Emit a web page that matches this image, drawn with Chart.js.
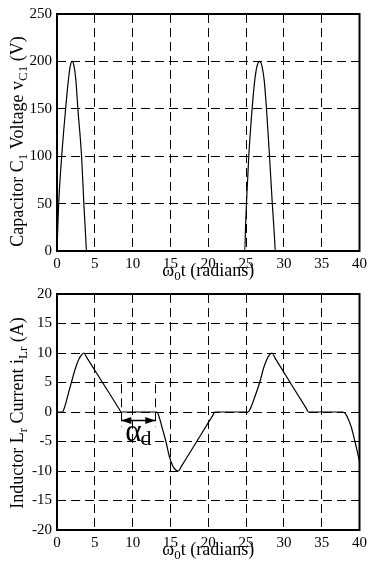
<!DOCTYPE html>
<html>
<head>
<meta charset="utf-8">
<script src="https://cdn.jsdelivr.net/npm/chart.js@4/dist/chart.umd.min.js"></script>
<style>
  html, body { margin: 0; padding: 0; background: #fff; }
  body { width: 371px; height: 568px; position: relative; overflow: hidden; }
  canvas { position: absolute; left: 0; }
  #vc { top: 0; }
  #il { top: 280px; }
</style>
</head>
<body>
<canvas id="vc" width="371" height="283"></canvas>
<canvas id="il" width="371" height="288"></canvas>
<script>
// Angle axis, ω0t in radians
const timeTicks = [0, 5, 10, 15, 20, 25, 30, 35, 40];

// Capacitor C1 voltage (V)
const vcTicks = [0, 50, 100, 150, 200, 250];
const vcTime  = [0, 0.1, 0.22, 0.62, 1.14, 1.5, 1.75, 2.0, 2.25, 2.5, 2.76, 3.25, 3.55, 3.8, 3.9,
                 24.83, 24.93, 25.05, 25.36, 25.8, 26.15, 26.45, 26.8, 27.1, 27.4, 27.7, 28.1, 28.47, 28.77, 28.87,
                 40];
const vcVolts = [0, 25, 50, 100, 150, 180, 195, 200, 195, 180, 150, 100, 50, 14, 0,
                 0, 25, 50, 100, 150, 180, 195, 200, 195, 180, 150, 100, 50, 13, 0,
                 0];

// Resonant inductor Lr current (A)
const ilTicks = [-20, -15, -10, -5, 0, 5, 10, 15, 20];
const ilTime = [0, 0.7, 1.0, 1.37, 1.9, 2.46, 2.9, 3.25, 3.55, 4.0, 8.2, 8.47,
                13.2, 13.5, 13.87, 14.4, 14.85, 15.25, 15.6, 16.05, 16.5, 20.6, 20.88,
                25.26, 25.6, 26.14, 26.8, 27.33, 27.77, 28.1, 28.42, 28.9, 33.0, 33.25,
                37.8, 38.2, 38.55, 38.9, 39.4, 39.85, 40];
const ilAmps = [0, 0, 0.8, 2.5, 5, 7.5, 9, 9.7, 10, 9.1, 0.55, 0,
                0, -0.8, -2.5, -5, -7.5, -9, -9.7, -10, -9.1, -0.58, 0,
                0, 0.7, 2.5, 5, 7.5, 9, 9.7, 10, 9.0, 0.52, 0,
                0, -0.4, -1.3, -2.5, -5, -7.5, -8.3];

// Dead angle alpha_d: start/end angle, arrow level and extent of its marker lines (A)
const alphaSpan = [8.5, 13.0];
const alphaArrowLevel = -1.4;
const alphaMarkRange = [4.7, -2.5];

// Axis titles as [text, isSubscript] runs
const timeTitle = [['ω', 0], ['0', 1], ['t (radians)', 0]];
const vcTitle = [['Capacitor C', 0], ['1', 1], [' Voltage v', 0], ['C1', 1], [' (V)', 0]];
const ilTitle = [['Inductor L', 0], ['r', 1], [' Current i', 0], ['Lr', 1], [' (A)', 0]];

const SERIF = '"Liberation Serif", "Times New Roman", serif';
const TITLE_PX = 18, SUB_PX = 13, SUB_DROP = 4;
const DASH = [9, 5];

function runsWidth(ctx, runs) {
  let w = 0;
  for (const [t, sub] of runs) {
    ctx.font = (sub ? SUB_PX : TITLE_PX) + 'px ' + SERIF;
    w += ctx.measureText(t).width;
  }
  return w;
}

// Draws runs centred on (0,0) of the current transform, baseline at y=0
function drawRuns(ctx, runs) {
  let x = -runsWidth(ctx, runs) / 2;
  ctx.textAlign = 'left';
  ctx.textBaseline = 'alphabetic';
  for (const [t, sub] of runs) {
    ctx.font = (sub ? SUB_PX : TITLE_PX) + 'px ' + SERIF;
    ctx.fillText(t, x, sub ? SUB_DROP : 0);
    x += ctx.measureText(t).width;
  }
}

const framePlugin = {
  id: 'frame',
  afterDraw(chart, args, opts) {
    const { ctx, chartArea: a } = chart;
    ctx.save();
    ctx.strokeStyle = '#000';
    ctx.lineWidth = 2;
    ctx.setLineDash([]);
    ctx.strokeRect(a.left, a.top, a.right - a.left, a.bottom - a.top);

    ctx.fillStyle = '#000';
    // x title
    ctx.save();
    ctx.translate((a.left + a.right) / 2, a.bottom + opts.xTitleGap);
    drawRuns(ctx, timeTitle);
    ctx.restore();
    // y title
    ctx.save();
    ctx.translate(23, (a.top + a.bottom) / 2 + opts.yTitleShift);
    ctx.rotate(-Math.PI / 2);
    drawRuns(ctx, opts.yTitle);
    ctx.restore();

    if (opts.alpha) {
      const xs = chart.scales.x, ys = chart.scales.y;
      const xa = xs.getPixelForValue(alphaSpan[0]);
      const xb = xs.getPixelForValue(alphaSpan[1]);
      const y1 = ys.getPixelForValue(alphaMarkRange[0]);
      const y2 = ys.getPixelForValue(alphaMarkRange[1]);
      ctx.lineWidth = 1;
      ctx.setLineDash(DASH);
      for (const x of [xa, xb]) {
        ctx.beginPath();
        ctx.moveTo(Math.round(x) + 0.5, y1);
        ctx.lineTo(Math.round(x) + 0.5, y2);
        ctx.stroke();
      }
      ctx.setLineDash([]);
      const ya = Math.round(ys.getPixelForValue(alphaArrowLevel)) + 0.5;
      ctx.lineWidth = 1.3;
      ctx.beginPath();
      ctx.moveTo(xa, ya);
      ctx.lineTo(xb, ya);
      ctx.stroke();
      const head = 10, half = 3.5;
      ctx.beginPath();
      ctx.moveTo(xa, ya); ctx.lineTo(xa + head, ya - half); ctx.lineTo(xa + head, ya + half);
      ctx.closePath(); ctx.fill();
      ctx.beginPath();
      ctx.moveTo(xb, ya); ctx.lineTo(xb - head, ya - half); ctx.lineTo(xb - head, ya + half);
      ctx.closePath(); ctx.fill();

      const base = ys.getPixelForValue(-5) - 1;
      ctx.textAlign = 'left';
      ctx.textBaseline = 'alphabetic';
      ctx.font = '31px ' + SERIF;
      const ax = xa + 4;
      ctx.fillText('α', ax, base);
      const aw = ctx.measureText('α').width;
      ctx.font = '22px ' + SERIF;
      ctx.fillText('d', ax + aw - 1, base + 4);
    }
    ctx.restore();
  }
};

function axis(ticksArr, min, max, isX, fit) {
  return {
    type: 'linear',
    min: min,
    max: max,
    afterBuildTicks: s => { s.ticks = ticksArr.map(v => ({ value: v })); },
    afterFit: s => { if (isX) s.height = fit; else s.width = fit; },
    grid: { color: '#000', lineWidth: 1, drawTicks: false },
    border: { display: false, dash: DASH },
    ticks: {
      padding: isX ? 4 : 5,
      color: '#000',
      autoSkip: false,
      maxRotation: 0,
      font: { family: SERIF, size: 15 },
      callback: v => String(v)
    }
  };
}

function makeChart(id, times, values, yTicks, yMin, yMax, xHeight, frameOpts) {
  return new Chart(document.getElementById(id), {
    type: 'line',
    data: {
      datasets: [{
        data: times.map((t, i) => ({ x: t, y: values[i] })),
        borderColor: '#000',
        borderWidth: 1.2,
        pointRadius: 0,
        fill: false,
        cubicInterpolationMode: 'monotone'
      }]
    },
    options: {
      responsive: false,
      animation: false,
      devicePixelRatio: 1,
      layout: { padding: { top: 10, right: 10, left: 0, bottom: 0 } },
      scales: {
        x: axis(timeTicks, 0, 40, true, xHeight),
        y: axis(yTicks, yMin, yMax, false, 57)
      },
      plugins: {
        legend: { display: false },
        tooltip: { enabled: false },
        frame: frameOpts
      }
    },
    plugins: [framePlugin]
  });
}

makeChart('vc', vcTime, vcVolts, vcTicks, 0, 250, 32,
  { yTitle: vcTitle, xTitleGap: 25, yTitleShift: 9, alpha: false });
makeChart('il', ilTime, ilAmps, ilTicks, -20, 20, 38,
  { yTitle: ilTitle, xTitleGap: 25, yTitleShift: 1, alpha: true });
</script>
</body>
</html>
